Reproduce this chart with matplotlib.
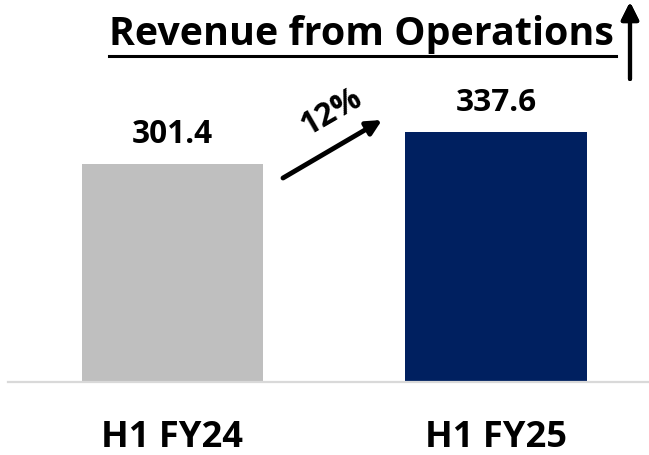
import matplotlib
matplotlib.use("Agg")
import matplotlib.pyplot as plt
from matplotlib.transforms import blended_transform_factory
from matplotlib.lines import Line2D

categories = ["H1 FY24", "H1 FY25"]
values = [301.4, 337.6]
growth_label = "12%"
title = "Revenue from Operations"
bar_colors = ["#bfbfbf", "#002060"]

FONT = "Open Sans"
WEIGHT = "bold"
W, H = 649, 456
fig = plt.figure(figsize=(W / 100, H / 100), dpi=100)
fig.patch.set_facecolor("white")

ax = fig.add_axes([8 / W, 73 / H, 641 / W, 250 / H])
x = list(range(len(categories)))
ax.bar(x, values, width=0.56, color=bar_colors, zorder=2)
ax.set_xlim(-0.5085, 1.473)
ax.set_ylim(54.8, 337.6)
for s in ["left", "right", "top"]:
    ax.spines[s].set_visible(False)
ax.spines["bottom"].set_color("#d9d9d9")
ax.spines["bottom"].set_linewidth(1.6)
ax.set_xticks([])
ax.set_yticks([])

renderer = fig.canvas.get_renderer()


def fit(t, target_w):
    t.set_fontsize(20)
    w = t.get_window_extent(renderer).width
    t.set_fontsize(20 * target_w / w)


# value labels
for xi, v in zip(x, values):
    t = ax.annotate(f"{v:.1f}", (xi, v), xytext=(0, 15.5), textcoords="offset points",
                    ha="center", va="baseline", fontweight=WEIGHT, family=FONT, color="black")
    fit(t, 81)

# category labels
trans = blended_transform_factory(ax.transData, ax.transAxes)
for xi, c in zip(x, categories):
    t = ax.text(xi, -0.256, c, transform=trans, ha="center", va="baseline",
                fontweight=WEIGHT, family=FONT, color="black")
    fit(t, 142)

# title with underline
tt = fig.text(361 / W, (H - 45) / H, title, ha="center", va="baseline",
              fontweight=WEIGHT, family=FONT, color="black")
fit(tt, 505)
bb = tt.get_window_extent(renderer)
fig.add_artist(Line2D([bb.x0 / W, (bb.x1 + 3) / W], [(H - 57) / H, (H - 57) / H],
                      transform=fig.transFigure, color="black", lw=2.2))

# up arrow next to title
fig.add_artist(plt.annotate("", xy=(630, H - 3), xytext=(630, H - 80),
                            xycoords="figure pixels", textcoords="figure pixels",
                            arrowprops=dict(arrowstyle="-|>", lw=3, color="black",
                                            mutation_scale=26, shrinkA=0, shrinkB=0)))

# growth arrow
ax.annotate("", xy=(382, H - 121), xytext=(283, H - 179),
            xycoords="figure pixels", textcoords="figure pixels",
            arrowprops=dict(arrowstyle="-|>", lw=3.5, color="black",
                            mutation_scale=22, shrinkA=0, shrinkB=0))
g = fig.text(331 / W, (H - 112) / H, growth_label, ha="center", va="center", rotation=30,
             fontweight=WEIGHT, family=FONT, color="black", rotation_mode="anchor")
g.set_fontsize(23)

fig.savefig("out.png", dpi=100, facecolor="white")
